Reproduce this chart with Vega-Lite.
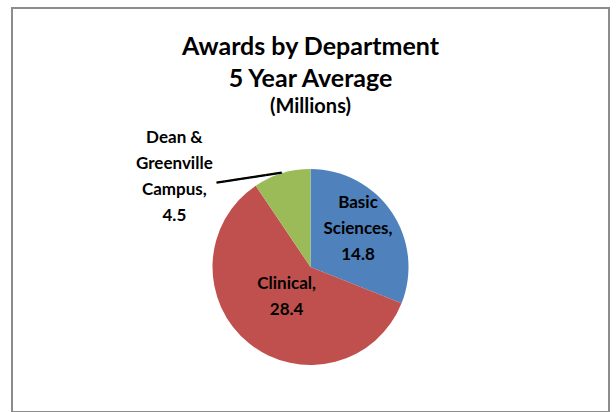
{
  "$schema": "https://vega.github.io/schema/vega-lite/v6.json",
  "width": 597,
  "height": 404,
  "autosize": "none",
  "padding": {"left": 12, "top": 8, "right": 7, "bottom": 0},
  "background": "white",
  "view": {"stroke": "#8c8c8c", "strokeWidth": 2},
  "title": {
    "text": ["Awards by Department", "5 Year Average"],
    "subtitle": "(Millions)",
    "anchor": "middle",
    "offset": -109,
    "font": "Lato",
    "fontSize": 25,
    "fontWeight": "bold",
    "lineHeight": 32,
    "color": "black",
    "subtitleFont": "Lato",
    "subtitleFontSize": 20,
    "subtitleFontWeight": "bold",
    "subtitleColor": "black",
    "subtitlePadding": 5
  },
  "data": {
    "values": [
      {"dept": "Basic Sciences", "value": 14.8, "label": "Basic\nSciences,\n14.8"},
      {"dept": "Clinical", "value": 28.4, "label": "Clinical,\n28.4"},
      {"dept": "Dean & Greenville Campus", "value": 4.5, "label": "Dean &\nGreenville\nCampus,\n4.5"}
    ]
  },
  "encoding": {
    "theta": {"field": "value", "type": "quantitative", "stack": true}
  },
  "layer": [
    {
      "mark": {"type": "arc", "outerRadius": 98, "yOffset": 57},
      "encoding": {
        "color": {
          "field": "dept",
          "type": "nominal",
          "scale": {
            "domain": ["Basic Sciences", "Clinical", "Dean & Greenville Campus"],
            "range": ["#4F81BD", "#C0504D", "#9BBB59"]
          },
          "legend": null
        }
      }
    },
    {
      "mark": {"type": "text", "radius": 98, "yOffset": 57, "angle": -8.7, "font": "DejaVu Sans Mono", "fontSize": 13.7, "align": "right", "baseline": "middle", "color": "black"},
      "encoding": {
        "detail": {"field": "dept", "type": "nominal"},
        "text": {"condition": {"test": "datum.dept === 'Dean & Greenville Campus'", "value": "━━━━━━━━"}, "value": ""}
      }
    },
    {
      "mark": {"type": "text", "radius": 61, "yOffset": 57, "dx": -3, "dy": -30, "font": "Lato", "fontSize": 17, "fontWeight": "bold", "lineBreak": "\n", "lineHeight": 26, "align": "center", "baseline": "middle", "color": "black"},
      "encoding": {
        "detail": {"field": "dept", "type": "nominal"},
        "text": {"condition": {"test": "datum.dept === 'Basic Sciences'", "field": "label"}, "value": ""}
      }
    },
    {
      "mark": {"type": "text", "radius": 38, "yOffset": 57, "dy": -13, "font": "Lato", "fontSize": 17, "fontWeight": "bold", "lineBreak": "\n", "lineHeight": 26, "align": "center", "baseline": "middle", "color": "black"},
      "encoding": {
        "detail": {"field": "dept", "type": "nominal"},
        "text": {"condition": {"test": "datum.dept === 'Clinical'", "field": "label"}, "value": ""}
      }
    },
    {
      "mark": {"type": "text", "radius": 110, "yOffset": 57, "dx": -104, "dy": -24, "font": "Lato", "fontSize": 17, "fontWeight": "bold", "lineBreak": "\n", "lineHeight": 26, "align": "center", "baseline": "middle", "color": "black"},
      "encoding": {
        "detail": {"field": "dept", "type": "nominal"},
        "text": {"condition": {"test": "datum.dept === 'Dean & Greenville Campus'", "field": "label"}, "value": ""}
      }
    }
  ]
}
